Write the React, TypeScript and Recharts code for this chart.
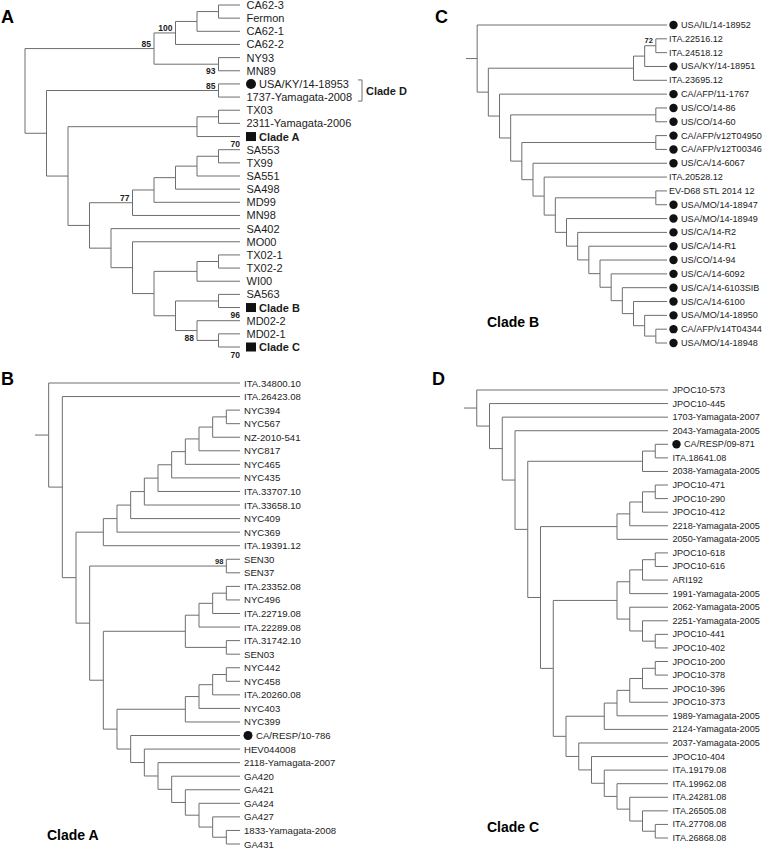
import React from "react"
import { ComposedChart, ReferenceLine, Scatter, XAxis, YAxis } from "recharts"

type Tree = string | Tree[]

const FONT = '"Liberation Sans", Arial, Helvetica, sans-serif'
const LINE = "#6e6e6e"
const INK = "#1c1c1c"

// ---- panel A: overview of the EV-D68 clades ----
const aTop: Tree = [[[["CA62-3", "Fermon"], "CA62-1"], "CA62-2"], ["NY93", "MN89"]]
const aSA: Tree = [[[[["SA553", "TX99"], "SA551"], "SA498"], "MD99"], "MN98"]
const aMO: Tree = ["SA402", ["MO00", [[["TX02-1", "TX02-2"], "WI00"], [["SA563", "Clade B"], ["MD02-2", ["MD02-1", "Clade C"]]]]]]
const treeA: Tree = [aTop, [["USA/KY/14-18953", "1737-Yamagata-2008"], [[["TX03", "2311-Yamagata-2006"], "Clade A"], [aSA, aMO]]]]

// ---- panel B: clade A ----
const bNYC: Tree = [[[[[[[[[["NYC394", "NYC567"], "NZ-2010-541"], "NYC817"], "NYC465"], "NYC435"], "ITA.33707.10"], "ITA.33658.10"], "NYC409"], "NYC369"], "ITA.19391.12"]
const bITA: Tree = [[[["ITA.23352.08", "NYC496"], "ITA.22719.08"], "ITA.22289.08"], ["ITA.31742.10", "SEN03"]]
const bNYC442: Tree = [[[["NYC442", "NYC458"], "ITA.20260.08"], "NYC403"], "NYC399"]
const bGA: Tree = ["CA/RESP/10-786", ["HEV044008", ["2118-Yamagata-2007", ["GA420", ["GA421", ["GA424", ["GA427", ["1833-Yamagata-2008", "GA431"]]]]]]]]
const treeB: Tree = ["ITA.34800.10", ["ITA.26423.08", [bNYC, [["SEN30", "SEN37"], [bITA, [bNYC442, bGA]]]]]]

// ---- panel C: clade B ----
const cTail: Tree = ["USA/MO/14-18949", ["US/CA/14-R2", ["US/CA/14-R1", ["US/CO/14-94", ["US/CA/14-6092", ["US/CA/14-6103SIB", ["US/CA/14-6100", ["USA/MO/14-18950", ["CA/AFP/v14T04344", "USA/MO/14-18948"]]]]]]]]]
const cMid: Tree = [["CA/AFP/v12T04950", "CA/AFP/v12T00346"], ["US/CA/14-6067", ["ITA.20528.12", [["EV-D68 STL 2014 12", "USA/MO/14-18947"], cTail]]]]
const cITA: Tree = [[["ITA.22516.12", "ITA.24518.12"], "USA/KY/14-18951"], "ITA.23695.12"]
const treeC: Tree = ["USA/IL/14-18952", [cITA, ["CA/AFP/11-1767", [["US/CO/14-86", "US/CO/14-60"], cMid]]]]

// ---- panel D: clade C ----
const dG1: Tree = [[[["JPOC10-471", "JPOC10-290"], "JPOC10-412"], "2218-Yamagata-2005"], "2050-Yamagata-2005"]
const dG2: Tree = [[[["JPOC10-618", "JPOC10-616"], "ARI192"], "1991-Yamagata-2005"], ["2062-Yamagata-2005", ["2251-Yamagata-2005", ["JPOC10-441", "JPOC10-402"]]]]
const dG3: Tree = [[[[["JPOC10-200", "JPOC10-378"], "JPOC10-396"], "JPOC10-373"], "1989-Yamagata-2005"], "2124-Yamagata-2005"]
const dTail: Tree = ["2037-Yamagata-2005", ["JPOC10-404", ["ITA.19179.08", ["ITA.19962.08", ["ITA.24281.08", ["ITA.26505.08", ["ITA.27708.08", "ITA.26868.08"]]]]]]]
const treeD: Tree = ["JPOC10-573", ["JPOC10-445", ["1703-Yamagata-2007", ["2043-Yamagata-2005", [[["CA/RESP/09-871", "ITA.18641.08"], "2038-Yamagata-2005"], [dG1, [dG2, [dG3, dTail]]]]]]]]

// markers
const circlesA = ["USA/KY/14-18953"]
const squaresA = ["Clade A", "Clade B", "Clade C"]
const circlesB = ["CA/RESP/10-786"]
const circlesC = [
  "USA/IL/14-18952", "USA/KY/14-18951", "CA/AFP/11-1767", "US/CO/14-86", "US/CO/14-60",
  "CA/AFP/v12T04950", "CA/AFP/v12T00346", "US/CA/14-6067", "USA/MO/14-18947", "USA/MO/14-18949",
  "US/CA/14-R2", "US/CA/14-R1", "US/CO/14-94", "US/CA/14-6092", "US/CA/14-6103SIB",
  "US/CA/14-6100", "USA/MO/14-18950", "CA/AFP/v14T04344", "USA/MO/14-18948",
]
const circlesD = ["CA/RESP/09-871"]

// bootstrap support values
const bootA = [
  { value: "100", node: ["CA62-3", "CA62-2"], pos: "tl" },
  { value: "85", node: ["CA62-3", "MN89"], pos: "tl" },
  { value: "93", node: ["NY93", "MN89"], pos: "bl" },
  { value: "85", node: ["USA/KY/14-18953", "1737-Yamagata-2008"], pos: "tl" },
  { value: "70", node: ["SA553"], pos: "la" },
  { value: "77", node: ["SA553", "MN98"], pos: "tl" },
  { value: "96", node: ["MD02-2"], pos: "la" },
  { value: "88", node: ["MD02-2", "Clade C"], pos: "bl" },
  { value: "70", node: ["Clade C"], pos: "lb" },
]
const bootB = [{ value: "98", node: ["SEN30", "SEN37"], pos: "tl" }]
const bootC = [{ value: "72", node: ["ITA.22516.12", "ITA.24518.12"], pos: "tl" }]

const bracketsA = [{ from: "USA/KY/14-18953", to: "1737-Yamagata-2008", label: "Clade D" }]

type Node = { name?: string; kids: Node[]; h: number; y: number; names: string[] }

function layoutTree(tree: Tree) {
  const leaves: Node[] = []
  const inner: Node[] = []
  let row = 0
  const walk = (t: Tree): Node => {
    if (typeof t === "string") {
      const leaf = { name: t, kids: [], h: 0, y: row++, names: [t] }
      leaves.push(leaf)
      return leaf
    }
    const kids = t.map(walk)
    const node = {
      kids,
      h: Math.max(...kids.map((k) => k.h)) + 1,
      y: (kids[0].y + kids[kids.length - 1].y) / 2,
      names: kids.flatMap((k) => k.names),
    }
    inner.push(node)
    return node
  }
  const root = walk(tree)
  const segs: { x: number; y: number }[][] = []
  inner.forEach((n) => {
    segs.push([{ x: n.h, y: n.kids[0].y }, { x: n.h, y: n.kids[n.kids.length - 1].y }])
    n.kids.forEach((k) => segs.push([{ x: n.h, y: k.y }, { x: k.h, y: k.y }]))
  })
  return { root, leaves, inner, segs }
}

type Cfg = {
  left: number; top: number; width: number; height: number
  margin: { top: number; right: number; bottom: number; left: number }
  maxX: number; stub: boolean; font: number; textDx: number
  markDx: number; markTextDx: number; r: number; bootFont: number
}

function TreePanel({ tree, cfg, circles = [], squares = [], boots = [], brackets = [] }: any) {
  const c = cfg as Cfg
  const { root, leaves, inner, segs } = layoutTree(tree)
  if (c.stub) segs.push([{ x: root.h + 1, y: root.y }, { x: root.h, y: root.y }])
  const n = leaves.length
  const rowPx = (c.height - c.margin.top - c.margin.bottom) / (n - 1)

  const leafData = leaves.map((l) => ({
    x: 0,
    y: l.y,
    name: l.name,
    mark: circles.includes(l.name) ? "circle" : squares.includes(l.name) ? "square" : "",
  }))

  const bootData = boots.map((b: any) => {
    let nd: Node | undefined
    if (b.node.length === 1) nd = leaves.find((l) => l.name === b.node[0])
    else
      nd = inner
        .filter((m) => b.node.every((s: string) => m.names.includes(s)))
        .sort((p, q) => p.h - q.h)[0]
    return { x: nd!.h, y: nd!.y, value: b.value, pos: b.pos }
  })

  const bracketData = brackets.map((b: any) => {
    const a = leaves.find((l) => l.name === b.from)!
    const z = leaves.find((l) => l.name === b.to)!
    return { x: 0, y: (a.y + z.y) / 2, span: z.y - a.y, label: b.label }
  })

  const leafShape = (p: any) => {
    const d = p.payload
    const bold = d.mark === "square"
    const tx = p.cx + (d.mark ? c.markTextDx : c.textDx)
    return (
      <g>
        {d.mark === "circle" && <circle cx={p.cx + c.markDx} cy={p.cy} r={c.r} fill="#111" />}
        {d.mark === "square" && <rect x={p.cx + c.markDx - 5} y={p.cy - 4.5} width={10} height={9} fill="#111" />}
        <text
          x={tx}
          y={p.cy}
          dominantBaseline="central"
          fontFamily={FONT}
          fontSize={c.font}
          fontWeight={bold ? "bold" : "normal"}
          fill={INK}
        >
          {d.name}
        </text>
      </g>
    )
  }

  const bootShape = (p: any) => {
    const d = p.payload
    let x = p.cx - 3
    let y = p.cy - 5
    if (d.pos === "bl") y = p.cy + 7
    if (d.pos === "la") { x = p.cx; y = p.cy - 5.5 }
    if (d.pos === "lb") { x = p.cx; y = p.cy + 8 }
    return (
      <text x={x} y={y} textAnchor="end" dominantBaseline="central" fontFamily={FONT} fontSize={c.bootFont} fontWeight="bold" fill={INK}>
        {d.value}
      </text>
    )
  }

  const bracketShape = (p: any) => {
    const d = p.payload
    const bx = p.cx + 122
    const half = (d.span * rowPx) / 2 + 4
    return (
      <g>
        <path d={`M${bx - 4},${p.cy - half}H${bx}V${p.cy + half}H${bx - 4}`} fill="none" stroke={LINE} />
        <text x={bx + 4} y={p.cy} dominantBaseline="central" fontFamily={FONT} fontSize={11} fontWeight="bold" fill={INK}>
          {d.label}
        </text>
      </g>
    )
  }

  return (
    <div style={{ position: "absolute", left: c.left, top: c.top }}>
      <ComposedChart width={c.width} height={c.height} margin={c.margin}>
        <XAxis type="number" dataKey="x" domain={[0, c.maxX]} reversed hide />
        <YAxis type="number" dataKey="y" domain={[0, n - 1]} reversed hide />
        {segs.map((s, i) => (
          <ReferenceLine key={i} segment={s} stroke={LINE} strokeWidth={1} ifOverflow="visible" />
        ))}
        <Scatter data={leafData} shape={leafShape} isAnimationActive={false} />
        {bootData.length > 0 && <Scatter data={bootData} shape={bootShape} isAnimationActive={false} />}
        {bracketData.length > 0 && <Scatter data={bracketData} shape={bracketShape} isAnimationActive={false} />}
      </ComposedChart>
    </div>
  )
}

const cfgA: Cfg = {
  left: 0, top: 0, width: 420, height: 360,
  margin: { top: 5, right: 180, bottom: 13, left: 25 },
  maxX: 10, stub: false, font: 11, textDx: 6.5, markDx: 11, markTextDx: 19, r: 5, bootFont: 8.5,
}
const cfgB: Cfg = {
  left: 0, top: 360, width: 390, height: 488,
  margin: { top: 23, right: 150, bottom: 4, left: 35 },
  maxX: 15, stub: true, font: 9.6, textDx: 4, markDx: 8, markTextDx: 16, r: 4.5, bootFont: 7.5,
}
const cfgC: Cfg = {
  left: 400, top: 0, width: 363, height: 360,
  margin: { top: 25, right: 96, bottom: 17, left: 66 },
  maxX: 18, stub: true, font: 9.1, textDx: 2, markDx: 6.5, markTextDx: 14, r: 4.2, bootFont: 7.5,
}
const cfgD: Cfg = {
  left: 400, top: 360, width: 363, height: 488,
  margin: { top: 30, right: 95, bottom: 10, left: 64 },
  maxX: 16, stub: true, font: 9.1, textDx: 4.5, markDx: 8.5, markTextDx: 16, r: 4.2, bootFont: 7.5,
}

export default function App() {
  return (
    <div style={{ position: "absolute", left: 0, top: 0, width: 763, height: 848, background: "#fff" }}>
      <TreePanel tree={treeA} cfg={cfgA} circles={circlesA} squares={squaresA} boots={bootA} brackets={bracketsA} />
      <TreePanel tree={treeB} cfg={cfgB} circles={circlesB} boots={bootB} />
      <TreePanel tree={treeC} cfg={cfgC} circles={circlesC} boots={bootC} />
      <TreePanel tree={treeD} cfg={cfgD} circles={circlesD} />
      <svg width={763} height={848} style={{ position: "absolute", left: 0, top: 0, pointerEvents: "none" }}>
        <g fontFamily={FONT} fontWeight="bold" fill="#000">
          <text x={1} y={23} fontSize={18}>A</text>
          <text x={1} y={385} fontSize={18}>B</text>
          <text x={435} y={23} fontSize={18}>C</text>
          <text x={432} y={385} fontSize={18}>D</text>
          <text x={47} y={840} fontSize={14}>Clade A</text>
          <text x={487} y={327} fontSize={14}>Clade B</text>
          <text x={487} y={832} fontSize={14}>Clade C</text>
        </g>
      </svg>
    </div>
  )
}
